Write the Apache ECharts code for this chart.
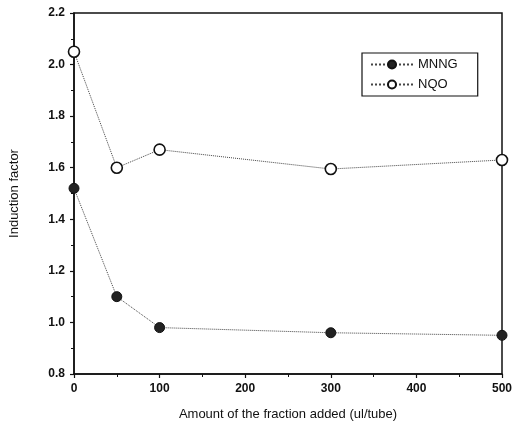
<!DOCTYPE html>
<html>
<head>
<meta charset="utf-8">
<script src="https://cdn.jsdelivr.net/npm/echarts@6/dist/echarts.min.js"></script>
<style>
  html, body { margin: 0; padding: 0; background: #fff; }
  #chart { width: 513px; height: 427px; }
</style>
</head>
<body>
<div id="chart"></div>
<script>
// Amount of fraction added per tube (ul)
const amounts = [0, 50, 100, 300, 500];
// Induction factor for each mutagen
const mnng = [1.52, 1.10, 0.98, 0.96, 0.95];
const nqo = [2.05, 1.60, 1.67, 1.595, 1.63];

const chart = echarts.init(document.getElementById('chart'));
const font = 'Liberation Sans, Arial, sans-serif';

function pairs(xs, ys) { return xs.map((x, i) => [x, ys[i]]); }

chart.setOption({
  animation: false,
  backgroundColor: '#fff',
  grid: {
    left: 74, right: 11, top: 13, bottom: 53,
    outerBoundsMode: 'none', containLabel: false,
    show: true, borderColor: '#111', borderWidth: 1.5, backgroundColor: 'transparent'
  },
  legend: {
    orient: 'vertical',
    left: 362, top: 53,
    width: 115,
    padding: [5, 20, 5, 8],
    itemGap: 7,
    itemWidth: 42, itemHeight: 10,
    borderColor: '#111', borderWidth: 1.2,
    textStyle: { fontFamily: font, fontSize: 13, color: '#111' },
    data: ['MNNG', 'NQO']
  },
  xAxis: {
    type: 'value', min: 0, max: 500, interval: 100,
    name: 'Amount of the fraction added (ul/tube)',
    nameLocation: 'middle', nameGap: 34,
    nameTextStyle: { fontFamily: font, fontSize: 13, color: '#111' },
    axisLine: { lineStyle: { color: '#111', width: 1.5 } },
    axisTick: { length: 4, lineStyle: { color: '#111', width: 1.2 } },
    minorTick: { show: true, splitNumber: 2, length: 3, lineStyle: { color: '#111' } },
    splitLine: { show: false },
    axisLabel: { fontFamily: font, fontSize: 12, fontWeight: 'bold', color: '#111', margin: 9 }
  },
  yAxis: {
    type: 'value', min: 0.8, max: 2.2, interval: 0.2,
    name: 'Induction factor',
    nameLocation: 'middle', nameGap: 53, nameRotate: 90,
    nameTextStyle: { fontFamily: font, fontSize: 13, color: '#111' },
    axisLine: { show: true, lineStyle: { color: '#111', width: 1.5 } },
    axisTick: { show: true, length: 4, lineStyle: { color: '#111', width: 1.2 } },
    minorTick: { show: true, splitNumber: 2, length: 3, lineStyle: { color: '#111' } },
    splitLine: { show: false },
    axisLabel: { fontFamily: font, fontSize: 12, fontWeight: 'bold', color: '#111', margin: 9,
      formatter: v => v.toFixed(1) }
  },
  series: [
    {
      name: 'MNNG', type: 'line', data: pairs(amounts, mnng),
      symbol: 'circle', symbolSize: 10,
      lineStyle: { color: '#444', width: 1, type: 'dotted' },
      itemStyle: { color: '#222', borderColor: '#111', borderWidth: 1 }
    },
    {
      name: 'NQO', type: 'line', data: pairs(amounts, nqo),
      symbol: 'circle', symbolSize: 11,
      lineStyle: { color: '#444', width: 1, type: 'dotted' },
      itemStyle: { color: '#fff', borderColor: '#111', borderWidth: 1.6 }
    }
  ]
});
</script>
</body>
</html>
